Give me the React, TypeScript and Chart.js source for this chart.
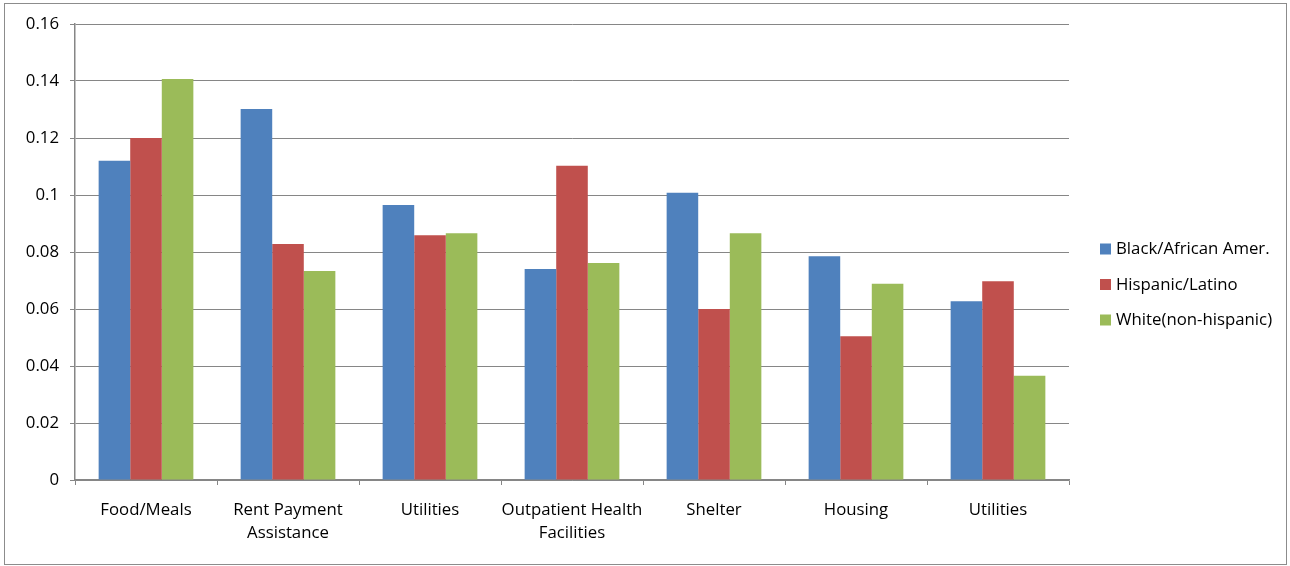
import React, { useEffect, useRef } from "react";
import { Chart, registerables } from "chart.js";

Chart.register(...registerables);

const categories: (string | string[])[] = [
  "Food/Meals",
  ["Rent Payment", "Assistance"],
  "Utilities",
  ["Outpatient Health", "Facilities"],
  "Shelter",
  "Housing",
  "Utilities",
];

const seriesNames = ["Black/African Amer.", "Hispanic/Latino", "White(non-hispanic)"];
const seriesColors = ["#4F81BD", "#C0504D", "#9BBB59"];

const blackAfricanAmer = [0.112, 0.1302, 0.0965, 0.074, 0.1008, 0.0785, 0.0627];
const hispanicLatino = [0.12, 0.0828, 0.0859, 0.1103, 0.06, 0.0504, 0.0697];
const whiteNonHispanic = [0.1407, 0.0733, 0.0866, 0.0761, 0.0866, 0.0689, 0.0366];

const yTickLabels = ["0", "0.02", "0.04", "0.06", "0.08", "0.1", "0.12", "0.14", "0.16"];

const FONT = "'Open Sans', Lato, sans-serif";
const FS = 16.8;

const framePlugin = {
  id: "frame",
  beforeDraw(chart: any) {
    const ctx = chart.ctx;
    ctx.save();
    ctx.fillStyle = "#ffffff";
    ctx.fillRect(0, 0, chart.width, chart.height);
    ctx.strokeStyle = "#8c8c8c";
    ctx.lineWidth = 1;
    ctx.strokeRect(4.5, 3.5, 1282, 561);
    ctx.restore();
  },
  afterDraw(chart: any) {
    const ctx = chart.ctx;
    ctx.save();
    ctx.font = `${FS}px ${FONT}`;
    ctx.textBaseline = "middle";
    ctx.textAlign = "left";
    chart.data.datasets.forEach((ds: any, i: number) => {
      const cy = 249 + i * 35.5;
      ctx.fillStyle = ds.backgroundColor;
      ctx.fillRect(1100, cy - 5.5, 11, 11);
      ctx.fillStyle = "#000000";
      ctx.fillText(ds.label, 1116, cy + 0.5);
    });
    ctx.restore();
  },
};

export default function App() {
  const ref = useRef<HTMLCanvasElement | null>(null);

  useEffect(() => {
    if (!ref.current) return;
    const data = [blackAfricanAmer, hispanicLatino, whiteNonHispanic];
    const chart = new Chart(ref.current, {
      type: "bar",
      data: {
        labels: categories as any,
        datasets: data.map((d, i) => ({
          label: seriesNames[i],
          data: d,
          backgroundColor: seriesColors[i],
          borderWidth: 0,
          categoryPercentage: 0.667,
          barPercentage: 1,
        })),
      },
      options: {
        animation: false,
        responsive: false,
        maintainAspectRatio: false,
        layout: { padding: { top: 24, right: 221, left: 0, bottom: 0 } },
        plugins: {
          legend: { display: false },
          tooltip: { enabled: false },
        },
        scales: {
          x: {
            offset: true,
            grid: {
              offset: true,
              drawOnChartArea: false,
              drawTicks: true,
              tickLength: 5,
              color: "#868686",
            },
            border: { color: "#868686", width: 1.5 },
            ticks: {
              padding: 14,
              color: "#000000",
              maxRotation: 0,
              autoSkip: false,
              font: { family: FONT, size: FS, lineHeight: 1.37 },
            },
            afterFit(scale: any) {
              scale.height = 86;
            },
          },
          y: {
            min: 0,
            max: 0.16,
            ticks: {
              stepSize: 0.02,
              padding: 11,
              color: "#000000",
              font: { family: FONT, size: FS },
              callback: (_v: any, idx: number) => yTickLabels[idx],
            },
            grid: {
              color: "#868686",
              lineWidth: 1,
              drawTicks: true,
              tickLength: 5,
            },
            border: { color: "#868686", width: 1.5 },
            afterFit(scale: any) {
              scale.width = 75;
            },
          },
        },
      },
      plugins: [framePlugin],
    });
    return () => chart.destroy();
  }, []);

  return (
    <div style={{ position: "fixed", left: 0, top: 0, width: 1290, height: 566, background: "#fff" }}>
      <canvas ref={ref} width={1290} height={566} style={{ display: "block" }} />
    </div>
  );
}
